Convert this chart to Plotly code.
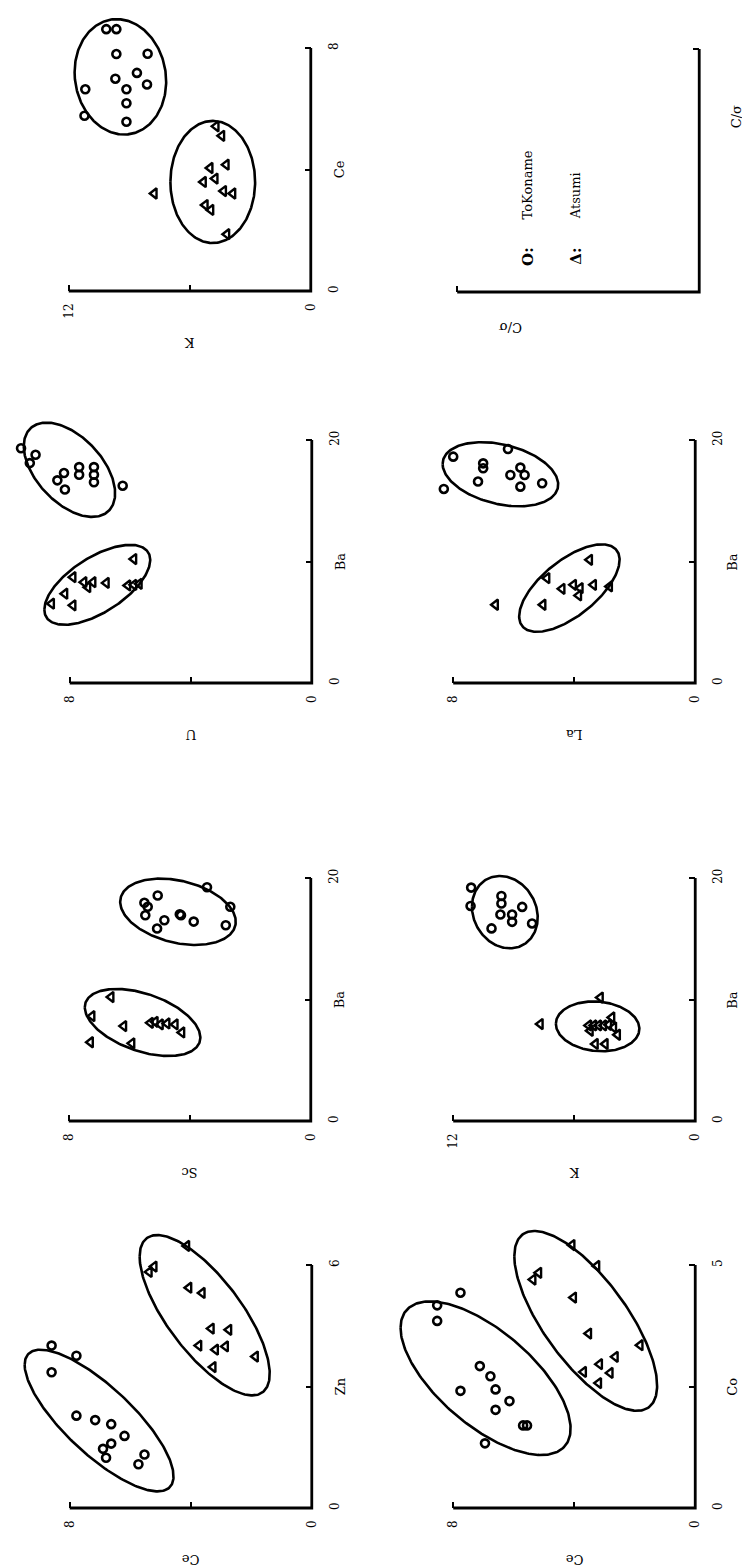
import numpy as np
import plotly.graph_objects as go

# ---------------- data ----------------
# Panel A : Ce (horizontal) vs Zn (vertical)
a_tok_ce = [8.60, 7.78, 8.60, 7.78, 7.16, 6.63, 6.19, 6.63, 6.90, 6.80, 5.53, 5.73]
a_tok_zn = [4.01, 3.76, 3.35, 2.28, 2.17, 2.07, 1.78, 1.59, 1.46, 1.24, 1.32, 1.08]
a_ats_ce = [4.13, 5.21, 5.37, 4.06, 3.62, 3.32, 2.74, 3.73, 3.18, 2.85, 3.26, 1.86]
a_ats_zn = [6.47, 5.96, 5.83, 5.44, 5.31, 4.43, 4.40, 4.01, 3.91, 3.99, 3.48, 3.74]
# Panel B : Ce vs Co
b_tok_ce = [7.76, 8.53, 8.53, 7.12, 6.77, 7.76, 6.60, 6.14, 6.60, 5.69, 5.56, 6.95]
b_tok_co = [4.43, 4.17, 3.85, 2.92, 2.71, 2.41, 2.44, 2.20, 2.02, 1.70, 1.70, 1.33]
b_ats_ce = [4.07, 3.25, 5.17, 5.36, 4.02, 3.52, 1.82, 2.64, 3.16, 3.69, 2.81, 3.19]
b_ats_co = [5.41, 4.98, 4.84, 4.70, 4.33, 3.59, 3.35, 3.11, 2.96, 2.80, 2.78, 2.57]
# Panel C : Sc vs Ba
c_tok_sc = [3.43, 5.06, 2.66, 5.50, 5.39, 5.47, 4.33, 4.29, 4.84, 3.87, 5.08, 2.81]
c_tok_ba = [19.24, 18.56, 17.63, 17.96, 17.63, 16.93, 17.01, 16.93, 16.52, 16.41, 15.84, 16.11]
c_ats_sc = [6.60, 7.23, 6.18, 5.30, 5.14, 4.97, 4.75, 4.48, 4.26, 5.91, 7.28]
c_ats_ba = [10.20, 8.63, 7.81, 8.08, 8.16, 7.95, 8.03, 7.95, 7.29, 6.39, 6.48]
# Panel D : K vs Ba
d_tok_k = [11.11, 11.14, 9.61, 9.61, 8.58, 9.66, 9.08, 9.08, 10.10, 8.09]
d_tok_ba = [19.21, 17.70, 18.52, 17.90, 17.62, 16.99, 16.99, 16.39, 15.85, 16.26]
d_ats_k = [4.70, 7.68, 4.13, 5.28, 5.03, 4.79, 4.54, 4.29, 4.04, 3.85, 4.95, 4.46, 5.20]
d_ats_ba = [10.16, 7.98, 8.52, 7.87, 7.87, 7.87, 7.87, 7.92, 7.70, 7.10, 6.34, 6.34, 7.43]
# Panel E : U vs Ba
e_tok_u = [9.61, 9.13, 9.32, 8.19, 8.41, 8.16, 7.69, 7.69, 7.20, 7.20, 7.20, 6.25]
e_tok_ba = [19.32, 18.78, 18.10, 17.28, 16.68, 15.92, 17.77, 17.14, 17.77, 17.14, 16.52, 16.24]
e_ats_u = [5.88, 7.89, 7.53, 7.40, 7.23, 6.79, 8.16, 8.60, 7.89, 6.08, 5.88, 5.70]
e_ats_ba = [10.20, 8.71, 8.30, 7.89, 8.30, 8.24, 7.35, 6.53, 6.39, 8.03, 8.08, 8.16]
# Panel F : La vs Ba
f_tok_la = [8.00, 6.19, 7.01, 7.01, 8.31, 7.18, 6.11, 5.78, 5.64, 5.78, 5.06]
f_tok_ba = [18.63, 19.26, 18.08, 17.67, 15.97, 16.58, 17.12, 17.73, 17.12, 16.16, 16.44]
f_ats_la = [6.60, 4.90, 5.03, 4.40, 4.02, 3.80, 3.36, 3.85, 3.49, 2.83]
f_ats_ba = [6.44, 8.63, 6.44, 7.75, 8.08, 7.81, 8.08, 7.21, 10.14, 7.95]
# Panel G : K vs Ce
g_tok_k = [10.14, 9.64, 9.64, 8.09, 8.62, 9.69, 8.12, 9.14, 9.14, 11.18, 11.22, 9.14]
g_tok_ce = [8.62, 8.62, 7.80, 7.81, 7.18, 6.99, 6.80, 6.64, 6.18, 6.64, 5.77, 5.57]
g_ats_k = [4.69, 4.41, 4.19, 4.99, 4.74, 5.32, 4.32, 3.86, 7.76, 5.23, 4.95, 4.16]
g_ats_ce = [5.42, 5.11, 4.16, 4.05, 3.70, 3.59, 3.29, 3.21, 3.21, 2.83, 2.67, 1.87]

# group ellipses: [centre_h, centre_v, half_range_h, half_range_v, correlation]
a_tok_ell = [7.03, 2.16, 2.46, 1.75, 0.786]
a_ats_ell = [3.54, 4.76, 2.15, 1.98, 0.73]
b_tok_ell = [6.93, 2.67, 2.81, 1.58, 0.656]
b_ats_ell = [3.62, 3.85, 2.36, 1.85, 0.72]
c_tok_ell = [4.39, 17.22, 1.91, 2.73, 0.30]
c_ats_ell = [5.56, 8.11, 1.91, 2.76, 0.45]
d_tok_ell = [9.44, 17.19, 1.63, 2.98, 0.15]
d_ats_ell = [4.84, 7.79, 2.07, 2.05, 0.10]
e_tok_ell = [8.01, 17.55, 1.51, 3.88, 0.50]
e_ats_ell = [7.09, 8.08, 1.75, 3.29, -0.62]
f_tok_ell = [6.44, 17.18, 1.91, 2.64, 0.32]
f_ats_ell = [4.16, 7.81, 1.66, 3.60, -0.645]
g_tok_ell = [9.44, 7.05, 2.27, 1.90, 0.08]
g_ats_ell = [4.86, 3.59, 2.10, 2.01, 0.0]

h_names = ["Ce", "Ce", "Sc", "K", "U", "La", "K", "C/σ"]
v_names = ["Zn", "Co", "Ba", "Ba", "Ba", "Ba", "Ce", "C/σ"]
h_max = [8, 8, 8, 12, 8, 8, 12, 1]
v_max = [6, 5, 20, 20, 20, 20, 8, 1]
legend_names = ["ToKoname", "Atsumi"]
legend_marks = ["O:", "Δ:"]

tok_data = [(a_tok_ce, a_tok_zn), (b_tok_ce, b_tok_co), (c_tok_sc, c_tok_ba), (d_tok_k, d_tok_ba),
            (e_tok_u, e_tok_ba), (f_tok_la, f_tok_ba), (g_tok_k, g_tok_ce), None]
ats_data = [(a_ats_ce, a_ats_zn), (b_ats_ce, b_ats_co), (c_ats_sc, c_ats_ba), (d_ats_k, d_ats_ba),
            (e_ats_u, e_ats_ba), (f_ats_la, f_ats_ba), (g_ats_k, g_ats_ce), None]
ells = [(a_tok_ell, a_ats_ell), (b_tok_ell, b_ats_ell), (c_tok_ell, c_ats_ell), (d_tok_ell, d_ats_ell),
        (e_tok_ell, e_ats_ell), (f_tok_ell, f_ats_ell), (g_tok_ell, g_ats_ell), None]

# ---------------- layout geometry (pixels) ----------------
W, H = 750, 1565
corners = [(305, 1500), (690, 1500), (304, 1113), (690, 1113),
           (305, 675), (690, 675), (304, 283), (694, 284)]
AX_LEN = 243
PAD_L, PAD_T, PAD_E = 55, 40, 4
h_title_frac = [0.5] * 7 + [0.78]
v_title_frac = [0.5] * 7 + [0.72]
h_title_shift = [-52] * 7 + [-36]
FONT = "DejaVu Serif"

fig = go.Figure()
layout = {}
shapes = []
annotations = []

t = np.linspace(0, 2 * np.pi, 240)

for i in range(8):
    n = i + 1
    sfx = "" if n == 1 else str(n)
    xr, yr = "x" + sfx, "y" + sfx
    cx, cy = corners[i]
    hm, vm = h_max[i], v_max[i]
    sx, sy = AX_LEN / hm, AX_LEN / vm
    empty = tok_data[i] is None

    if empty:
        tv_h, tt_h = [hm], [""]
        tv_v, tt_v = [vm], [""]
    else:
        tv_h, tt_h = [0, hm / 2, hm], ["0", "", str(hm)]
        tv_v, tt_v = [0, vm / 2, vm], ["0", "", str(vm)]

    layout["xaxis" + sfx] = dict(
        domain=[(cx - AX_LEN - PAD_L) / W, (cx + PAD_E) / W],
        range=[hm + PAD_L / sx, -PAD_E / sx],
        anchor="free", position=(H - cy) / H,
        showgrid=False, zeroline=False, showline=False,
        ticks="inside", ticklen=6, tickwidth=2, tickcolor="black",
        tickmode="array", tickvals=tv_h, ticktext=tt_h, tickangle=-90,
        ticklabelstandoff=9,
        tickfont=dict(family=FONT, size=12, color="black"),
        fixedrange=True,
    )
    layout["yaxis" + sfx] = dict(
        domain=[(H - cy - PAD_E) / H, min(1.0, (H - cy + AX_LEN + PAD_T) / H)],
        range=[-PAD_E / sy, vm + PAD_T / sy],
        anchor="free", position=min(1.0, cx / W), side="right",
        showgrid=False, zeroline=False, showline=False,
        ticks="inside", ticklen=6, tickwidth=2, tickcolor="black",
        tickmode="array", tickvals=tv_v, ticktext=tt_v, tickangle=-90,
        ticklabelstandoff=14,
        tickfont=dict(family=FONT, size=12, color="black"),
        fixedrange=True,
    )

    # axis frame (L-shape) drawn in data coordinates
    shapes.append(dict(type="path", xref=xr, yref=yr,
                       path=f"M {hm},0 L 0,0 L 0,{vm}",
                       line=dict(color="black", width=2.8)))

    # axis titles
    annotations.append(dict(xref=xr, yref=yr, x=hm * h_title_frac[i], y=0, yshift=h_title_shift[i],
                            text=h_names[i], textangle=180, showarrow=False,
                            xanchor="center", yanchor="middle",
                            font=dict(family=FONT, size=13, color="black")))
    vshift = 29 if cx < 400 else 37
    annotations.append(dict(xref=xr, yref=yr, x=0, y=vm * v_title_frac[i], xshift=vshift,
                            text=v_names[i], textangle=-90, showarrow=False,
                            xanchor="center", yanchor="middle",
                            font=dict(family=FONT, size=13, color="black")))

    if empty:
        fig.add_trace(go.Scatter(x=[hm], y=[vm], mode="markers", marker=dict(opacity=0),
                                 xaxis=xr, yaxis=yr, showlegend=False, hoverinfo="skip"))
        continue

    # ellipses
    for ell in ells[i]:
        ch, cv, hh, hv, rho = ell
        eh = ch + hh * np.cos(t)
        ev = cv + hv * (rho * np.cos(t) + np.sqrt(1 - rho ** 2) * np.sin(t))
        fig.add_trace(go.Scatter(x=eh, y=ev, mode="lines",
                                 line=dict(color="black", width=2.6),
                                 xaxis=xr, yaxis=yr, showlegend=False, hoverinfo="skip"))

    th, tv = tok_data[i]
    fig.add_trace(go.Scatter(x=th, y=tv, mode="markers", name=legend_names[0],
                             marker=dict(symbol="circle-open", size=8, color="black",
                                         line=dict(width=2.6, color="black")),
                             cliponaxis=False, xaxis=xr, yaxis=yr, showlegend=False))
    ah, av = ats_data[i]
    fig.add_trace(go.Scatter(x=ah, y=av, mode="markers", name=legend_names[1],
                             marker=dict(symbol="triangle-left-open", size=9, color="black",
                                         line=dict(width=2.4, color="black")),
                             cliponaxis=False, xaxis=xr, yaxis=yr, showlegend=False))

# legend (inside the empty panel)
leg_x = [522, 570]
for k in range(2):
    annotations.append(dict(xref="paper", yref="paper", x=leg_x[k] / W, y=1 - 248 / H,
                            text="<b>" + legend_marks[k] + "</b>", textangle=-90, showarrow=False,
                            xanchor="center", yanchor="middle",
                            font=dict(family=FONT, size=15, color="black")))
    annotations.append(dict(xref="paper", yref="paper", x=leg_x[k] / W, y=1 - 213 / H,
                            text=legend_names[k], textangle=-90, showarrow=False,
                            xanchor="center", yanchor="bottom",
                            font=dict(family=FONT, size=13, color="black")))

fig.update_layout(
    width=W, height=H, autosize=False,
    margin=dict(l=0, r=0, t=0, b=0),
    paper_bgcolor="white", plot_bgcolor="rgba(0,0,0,0)",
    showlegend=False,
    shapes=shapes, annotations=annotations,
    **layout,
)

fig.write_html("out.html")
